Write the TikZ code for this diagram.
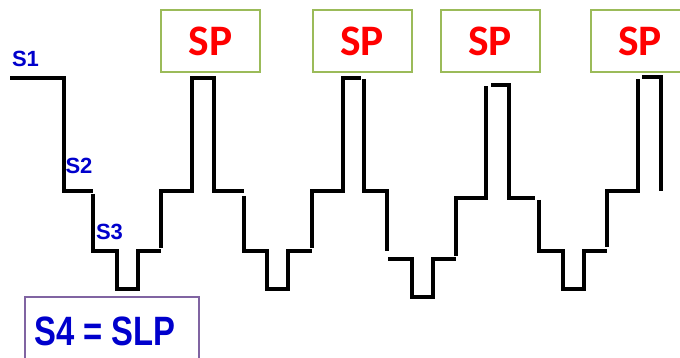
\documentclass[tikz,border=0pt]{standalone}
\usepackage{fontspec}
\setmainfont{Liberation Sans}
\newfontfamily\spfont{Carlito}
\definecolor{spgreen}{HTML}{9BBB59}
\definecolor{slppurple}{HTML}{8064A2}
\definecolor{lblue}{HTML}{0000CC}
\begin{document}
\begin{tikzpicture}[x=1pt,y=-1pt,
  wave/.style={line width=4pt, black, line join=miter},
  spbox/.style={draw=spgreen, line width=2pt, minimum width=99pt, minimum height=62pt, inner sep=0pt,
    text=red, font=\spfont\bfseries\fontsize{43.5}{43.5}\selectfont},
  slpbox/.style={draw=slppurple, line width=2pt, minimum width=174pt, minimum height=68pt, inner sep=0pt,
    text=lblue, font=\bfseries\fontsize{41}{41}\selectfont},
  slabel/.style={text=lblue, inner sep=0pt, font=\bfseries\fontsize{22}{22}\selectfont}]
\useasboundingbox (0,0) rectangle (680,358);
\clip (0,0) rectangle (680,358);
% SP boxes
\node[spbox] (sp1) at (210.5,41) {SP};
\node[spbox] (sp2) at (362,41) {SP};
\node[spbox] (sp3) at (490,41) {SP};
\node[spbox] (sp4) at (640,41) {SP};
% SLP box
\node[slpbox] (slp) at (112,331) {\scalebox{0.8}[1]{S4 = SLP}\hbox{\hskip 14pt}};
% labels
\node[slabel] (s1) at (25.5,58.5) {S1};
\node[slabel] (s2) at (79,165.5) {S2};
\node[slabel] (s3) at (109.5,231.5) {S3};
% staircase
\draw[wave] (10,78) -- (64,78) -- (64,191) -- (93,191);
\draw[wave] (93,194) -- (93,251) -- (117,251) -- (117,289) -- (138,289) -- (138,251) -- (161,251);
\draw[wave] (161,248) -- (161,191) -- (192,191) -- (192,78) -- (214,78) -- (214,191) -- (244,191);
\draw[wave] (244,196) -- (244,251) -- (267,251) -- (267,289) -- (288,289) -- (288,251) -- (312,251);
\draw[wave] (312,248) -- (312,191) -- (343,191) -- (343,78) -- (361,78);
\draw[wave] (364,79) -- (364,191) -- (387,191) -- (387,251);
\draw[wave] (388,259) -- (412,259) -- (412,297) -- (433,297) -- (433,259) -- (456,259);
\draw[wave] (456,256) -- (456,198) -- (486,198) -- (486,86);
\draw[wave] (491,85) -- (509,85) -- (509,198) -- (535,198);
\draw[wave] (539,200) -- (539,251) -- (563,251) -- (563,289) -- (584,289) -- (584,251) -- (607,251);
\draw[wave] (607,247) -- (607,191) -- (638,191) -- (638,79);
\draw[wave] (642,77) -- (661,77) -- (661,191);
\end{tikzpicture}
\end{document}
